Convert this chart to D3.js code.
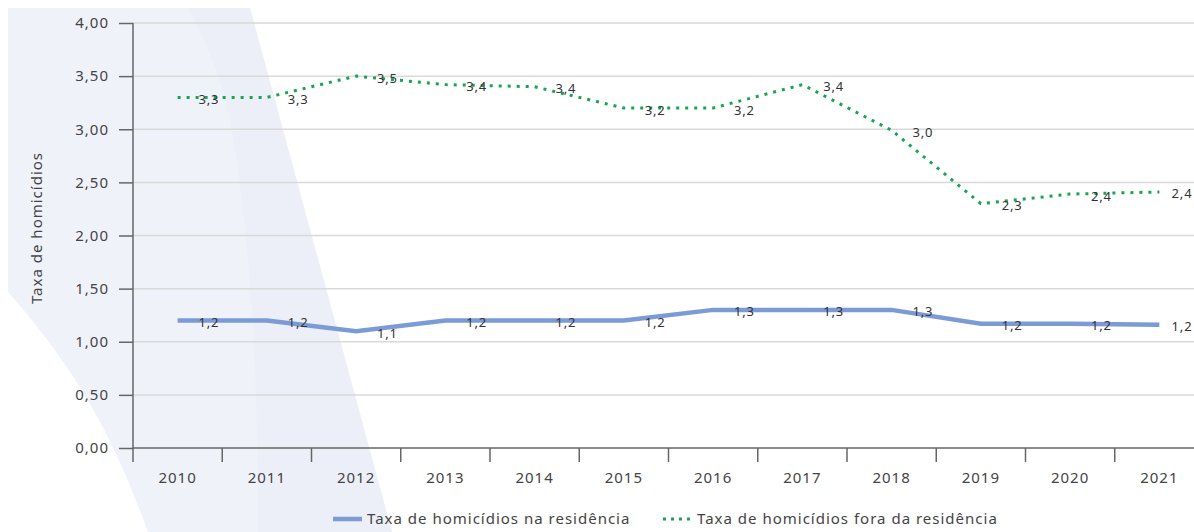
<!DOCTYPE html>
<html>
<head>
<meta charset="utf-8">
<script src="https://cdn.jsdelivr.net/npm/d3@7"></script>
<style>
  body { margin: 0; background: #fff; }
  svg { display: block; font-family: "Noto Sans", sans-serif; }
  .lbl { font-size: 15px; letter-spacing: 1px; fill: #444; }
</style>
</head>
<body>
<div id="chart"></div>
<script>
// data
var years = ["2010","2011","2012","2013","2014","2015","2016","2017","2018","2019","2020","2021"];
var naResidencia = [1.2, 1.2, 1.1, 1.2, 1.2, 1.2, 1.3, 1.3, 1.3, 1.17, 1.17, 1.16];
var foraResidencia = [3.3, 3.3, 3.5, 3.42, 3.4, 3.2, 3.2, 3.42, 2.99, 2.3, 2.39, 2.41];
var yTicks = [0, 0.5, 1, 1.5, 2, 2.5, 3, 3.5, 4];
var seriesNames = ["Taxa de homicídios na residência", "Taxa de homicídios fora da residência"];
var yTitle = "Taxa de homicídios";

var W = 1194, H = 532;
var m = {left: 133, right: 1204, top: 23, bottom: 448};

var svg = d3.select("#chart").append("svg")
  .attr("width", W).attr("height", H);

// decorative background shapes
svg.append("path")
  .attr("d", "M8,8 L250,8 L392,532 L148,532 C125,470 95,390 8,292 Z")
  .attr("fill", "#f0f2f9");
svg.append("path")
  .attr("d", "M188,8 L250,8 L392,532 L258,532 C258,420 255,260 230,120 C220,70 200,30 188,8 Z")
  .attr("fill", "#eceff7");

var x = d3.scaleBand().domain(years).range([m.left, m.right]);
var y = d3.scaleLinear().domain([0, 4]).range([m.bottom, m.top]);
var cx = function(d, i) { return x(years[i]) + x.bandwidth() / 2; };
var fmt = function(v) { return v.toFixed(1).replace(".", ","); };

// gridlines
svg.append("g").selectAll("line")
  .data(yTicks.slice(1))
  .enter().append("line")
    .attr("x1", m.left).attr("x2", W)
    .attr("y1", function(d) { return y(d); })
    .attr("y2", function(d) { return y(d); })
    .attr("stroke", "#d9d9d9")
    .attr("stroke-width", 1.5);

// y axis
var yAxis = svg.append("g")
  .attr("transform", "translate(" + m.left + ",0)")
  .call(d3.axisLeft(y).tickValues(yTicks).tickSize(14).tickPadding(10)
    .tickFormat(function(d) { return d.toFixed(2).replace(".", ","); }));
yAxis.select(".domain").remove();
yAxis.selectAll("line").attr("stroke", "#666").attr("stroke-width", 1.5);
yAxis.selectAll("text").attr("class", "lbl").attr("fill", null)
  .style("font-family", "'Noto Sans', sans-serif");
svg.append("line")
  .attr("x1", m.left).attr("x2", m.left).attr("y1", m.top).attr("y2", m.bottom + 14)
  .attr("stroke", "#666").attr("stroke-width", 1.5);

// x axis
svg.append("line")
  .attr("x1", m.left).attr("x2", W).attr("y1", m.bottom).attr("y2", m.bottom)
  .attr("stroke", "#666").attr("stroke-width", 1.5);
svg.append("g").selectAll("line")
  .data(years.slice(1))
  .enter().append("line")
    .attr("x1", function(d) { return x(d); })
    .attr("x2", function(d) { return x(d); })
    .attr("y1", m.bottom).attr("y2", m.bottom + 14)
    .attr("stroke", "#666").attr("stroke-width", 1.5);
svg.append("g").selectAll("text")
  .data(years)
  .enter().append("text")
    .attr("class", "lbl")
    .attr("x", function(d) { return x(d) + x.bandwidth() / 2; })
    .attr("y", 478)
    .attr("dy", "0.35em")
    .attr("text-anchor", "middle")
    .text(function(d) { return d; });

// y title
svg.append("text")
  .attr("class", "lbl")
  .attr("transform", "translate(37,228) rotate(-90)")
  .attr("text-anchor", "middle")
  .attr("dy", "0.35em")
  .text(yTitle);

var line = d3.line()
  .x(cx)
  .y(function(d) { return y(d); });

// series
svg.append("path")
  .datum(naResidencia)
  .attr("d", line)
  .attr("fill", "none")
  .attr("stroke", "#7b9bd7")
  .attr("stroke-width", 4.5);

svg.append("path")
  .datum(foraResidencia)
  .attr("d", line)
  .attr("fill", "none")
  .attr("stroke", "#17a54f")
  .attr("stroke-width", 3)
  .attr("stroke-dasharray", "3 6");

// data labels (last one pulled in so it stays inside the picture)
function labels(data) {
  svg.append("g").selectAll("text")
    .data(data)
    .enter().append("text")
      .attr("x", function(d, i) { return Math.min(cx(d, i) + x.bandwidth() * 0.35, W - 12); })
      .attr("y", function(d) { return y(d) + 2; })
      .attr("dy", "0.35em")
      .attr("text-anchor", "middle")
      .attr("fill", "#333")
      .style("font-size", "13px")
      .style("letter-spacing", "0.8px")
      .text(fmt);
}
labels(naResidencia);
labels(foraResidencia);

// legend
var lg = svg.append("g");
lg.append("line")
  .attr("x1", 333).attr("x2", 362).attr("y1", 519).attr("y2", 519)
  .attr("stroke", "#7b9bd7").attr("stroke-width", 4.5);
lg.append("text")
  .attr("class", "lbl")
  .attr("x", 367).attr("y", 519).attr("dy", "0.35em")
  .text(seriesNames[0]);
lg.append("line")
  .attr("x1", 663).attr("x2", 690).attr("y1", 519).attr("y2", 519)
  .attr("stroke", "#17a54f").attr("stroke-width", 3)
  .attr("stroke-dasharray", "3 5");
lg.append("text")
  .attr("class", "lbl")
  .attr("x", 697).attr("y", 519).attr("dy", "0.35em")
  .text(seriesNames[1]);
</script>
</body>
</html>
